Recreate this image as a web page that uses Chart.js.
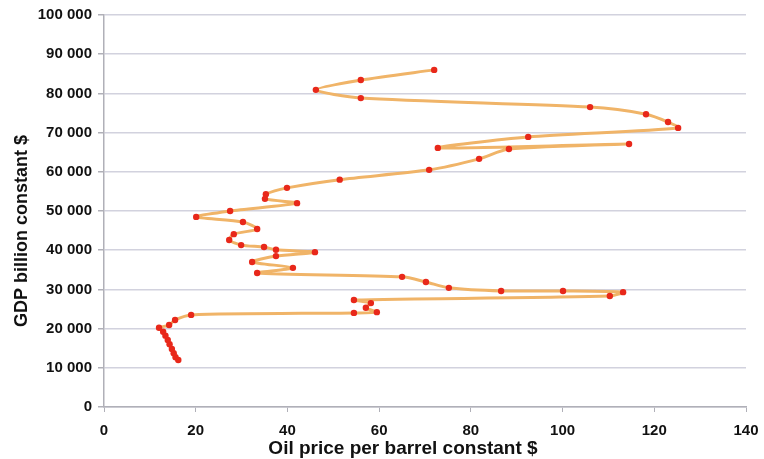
<!DOCTYPE html>
<html lang="en">
<head>
<meta charset="UTF-8" />
<title>Oil price vs GDP</title>
<style>
  body {
    margin: 0;
    background: #fff;
  }
  #wrap {
    width: 764px;
    height: 459px;
    position: relative;
  }
</style>
</head>
<body>

<div id="wrap"><canvas id="chart"></canvas></div>

<script src="https://cdn.jsdelivr.net/npm/chart.js"></script>

<script>
// oil price per barrel (constant $), in time order
const oilPrice = [16.2, 15.6, 15.2, 14.8, 14.3, 13.9, 13.4, 12.9, 12.0, 14.2, 15.5, 19.0,
  54.5, 59.5, 57.1, 58.2, 54.5, 110.3, 113.2, 100.1, 86.6, 75.2, 70.2, 65.0,
  33.4, 41.2, 32.3, 37.5, 46.0, 37.5, 34.9, 29.9, 27.3, 28.3, 33.4, 30.3, 20.1,
  27.5, 42.1, 35.1, 35.3, 39.9, 51.4, 70.9, 81.8, 88.3, 114.5, 72.8, 92.5,
  125.2, 123.0, 118.2, 106.0, 56.0, 46.2, 56.0, 72.0];

// GDP billion constant $, same order
const gdp = [12000, 12700, 13700, 14800, 16000, 17100, 18200, 19200, 20200, 20900, 22200, 23500,
  24000, 24200, 25300, 26500, 27300, 28300, 29300, 29600, 29600, 30400, 31900, 33200,
  34200, 35500, 37000, 38500, 39500, 40100, 40800, 41300, 42600, 44100, 45400, 47200, 48500,
  50000, 52000, 53100, 54300, 55900, 58000, 60500, 63300, 65800, 67100, 66100, 68900,
  71200, 72700, 74700, 76500, 78800, 80900, 83400, 86000];

const xTicks = [0, 20, 40, 60, 80, 100, 120, 140];
const yTicks = [0, 10000, 20000, 30000, 40000, 50000, 60000, 70000, 80000, 90000, 100000];

const xTitle = "Oil price per barrel constant $";
const yTitle = "GDP billion constant $";

const points = oilPrice.map((x, i) => ({ x: x, y: gdp[i] }));

function spaced(v) {
  return String(v).replace(/\B(?=(\d{3})+(?!\d))/g, " ");
}

const tickFont = { family: "'Liberation Sans', Arial, sans-serif", size: 15, weight: "bold" };

// axis titles sit a bit off-centre in the original, so draw them ourselves
const axisTitles = {
  id: "axisTitles",
  afterDraw(chart) {
    const ctx = chart.ctx;
    ctx.save();
    ctx.fillStyle = "#111";
    ctx.textAlign = "center";
    ctx.textBaseline = "middle";
    ctx.font = "bold 19px 'Liberation Sans', Arial, sans-serif";
    ctx.fillText(xTitle, 403, 449);
    ctx.font = "bold 18px 'Liberation Sans', Arial, sans-serif";
    ctx.translate(22, 231);
    ctx.rotate(-Math.PI / 2);
    ctx.fillText(yTitle, 0, 0);
    ctx.restore();
  }
};

new Chart(document.getElementById("chart"), {
  type: "scatter",
  data: {
    datasets: [{
      data: points,
      showLine: true,
      borderColor: "#f0b468",
      borderWidth: 3,
      tension: 0.25,
      pointRadius: 3.2,
      pointBorderWidth: 0,
      pointBackgroundColor: "#e8281a",
      pointHoverRadius: 3.2
    }]
  },
  plugins: [axisTitles],
  options: {
    responsive: true,
    maintainAspectRatio: false,
    animation: false,
    layout: { padding: { left: 0, right: 0, top: 10, bottom: 0 } },
    plugins: {
      legend: { display: false },
      tooltip: { enabled: false }
    },
    scales: {
      x: {
        type: "linear",
        min: 0,
        max: 140,
        afterBuildTicks: s => { s.ticks = xTicks.map(v => ({ value: v })); },
        ticks: { color: "#111", font: tickFont, padding: 10, maxRotation: 0 },
        grid: { drawOnChartArea: false, drawTicks: true, tickLength: 5, color: "#b0b0b8" },
        border: { color: "#b0b0b8", width: 1.5 },
        afterFit: s => { s.height = 52; s.paddingRight = 18; }
      },
      y: {
        type: "linear",
        min: 0,
        max: 100000,
        afterBuildTicks: s => { s.ticks = yTicks.map(v => ({ value: v })); },
        ticks: { color: "#111", font: tickFont, padding: 6, callback: v => spaced(v) },
        grid: { color: "#d2d2de", lineWidth: 1.5, tickLength: 6, tickColor: "#b0b0b8" },
        border: { color: "#b0b0b8", width: 1.5 },
        afterFit: s => { s.width = 104; }
      }
    }
  }
});
</script>
</body>
</html>
